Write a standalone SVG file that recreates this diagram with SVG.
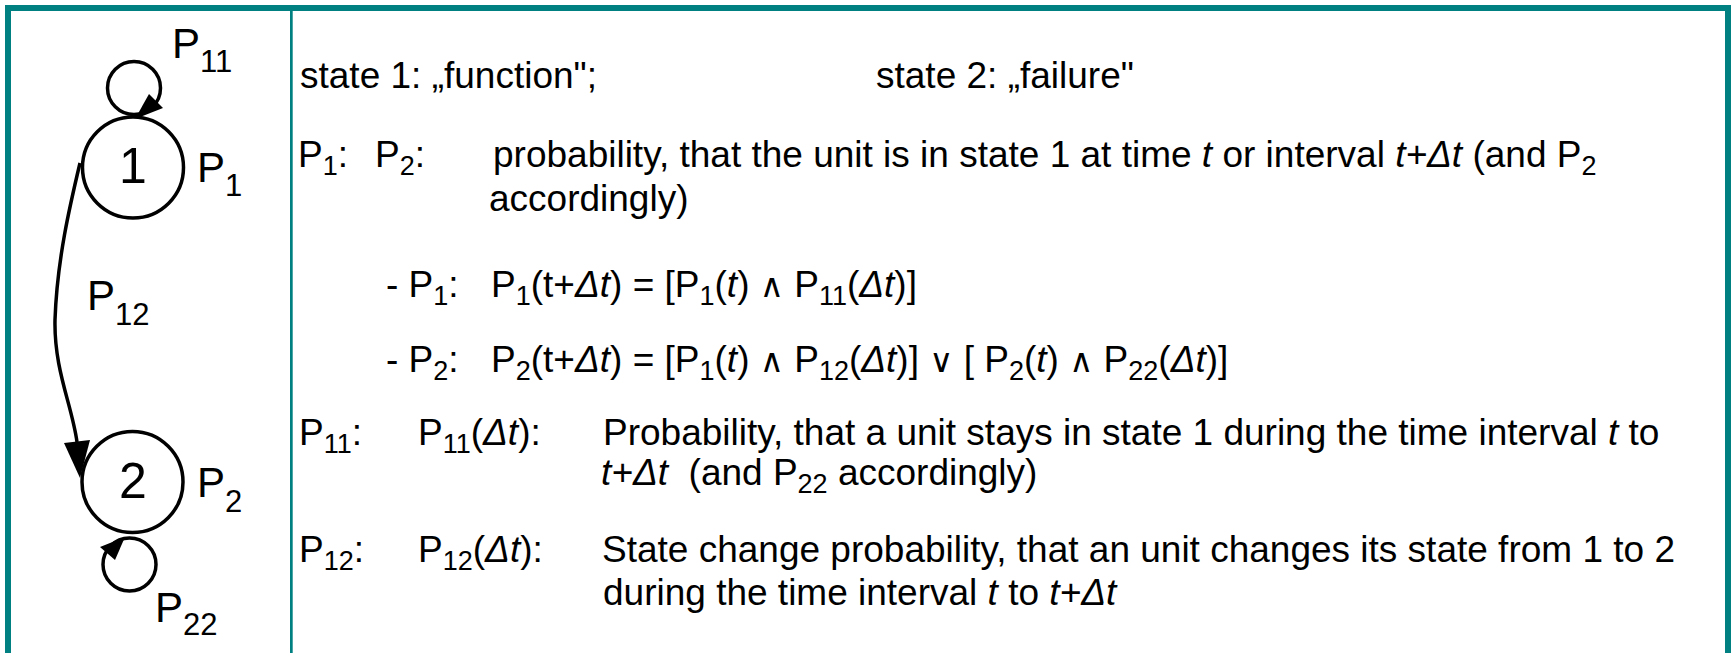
<svg xmlns="http://www.w3.org/2000/svg" width="1731" height="653" viewBox="0 0 1731 653">
<style>
.t{font-family:"Liberation Sans",Arial,"DejaVu Sans",sans-serif;font-size:37px;fill:#000}
.s{font-size:27px}
.i{font-style:italic}
.op{font-family:"DejaVu Sans",sans-serif;font-size:33px}
.lbl{font-family:"Liberation Sans",Arial,sans-serif;font-size:42px;fill:#000}
.ls{font-size:31px}
.num{font-family:"Liberation Sans",Arial,sans-serif;font-size:50px;text-anchor:middle;fill:#000}
.state{fill:#fff;stroke:#000;stroke-width:3.5}
.edge{fill:none;stroke:#000;stroke-width:3.5}
.head{fill:#000}
.frame{fill:none;stroke:#008080;stroke-width:6}
</style>
<rect width="1731" height="653" fill="#fff"/>
<g id="frame">
<rect class="frame" x="8" y="8" width="1720" height="700"/>
<rect x="290" y="11" width="2.7" height="642" fill="#008080"/>
</g>
<g id="connectors">
<circle class="edge" cx="134" cy="88" r="26.5"/>
<polygon class="head" points="135,119 149,94 163,108"/>
<path class="edge" d="M80,163 C70,205 57,260 55,320 C54,370 72,405 77,442"/>
<polygon class="head" points="80,478 64,443 90,440"/>
<circle class="edge" cx="129.5" cy="564.5" r="26.5"/>
<polygon class="head" points="125,537 100,547 115,560"/>
<text class="lbl" x="172" y="58">P<tspan class="ls" dy="14">11</tspan></text>
<text class="lbl" x="87" y="310">P<tspan class="ls" dy="15">12</tspan></text>
<text class="lbl" x="155" y="622">P<tspan class="ls" dy="13">22</tspan></text>
</g>
<g id="node-1">
<circle class="state" cx="133" cy="167.5" r="50.5"/>
<text class="num" x="133" y="183">1</text>
<text class="lbl" x="197" y="182">P<tspan class="ls" dy="14">1</tspan></text>
</g>
<g id="node-2">
<circle class="state" cx="132.5" cy="482" r="50.5"/>
<text class="num" x="133" y="498">2</text>
<text class="lbl" x="197" y="497">P<tspan class="ls" dy="15">2</tspan></text>
</g>
<g id="legend">
<text class="t" x="300" y="88">state 1: „function";</text>
<text class="t" x="876" y="88">state 2: „failure"</text>
<text class="t" x="298" y="167">P<tspan class="s" dy="8">1</tspan><tspan dy="-8">:</tspan></text>
<text class="t" x="375" y="167">P<tspan class="s" dy="8">2</tspan><tspan dy="-8">:</tspan></text>
<text class="t" x="493" y="167">probability, that the unit is in state 1 at time <tspan class="i">t</tspan> or interval <tspan class="i">t+Δt</tspan> (and P<tspan class="s" dy="8">2</tspan></text>
<text class="t" x="489" y="211">accordingly)</text>
<text class="t" x="386" y="297">- P<tspan class="s" dy="8">1</tspan><tspan dy="-8">:</tspan></text>
<text class="t" x="491" y="297">P<tspan class="s" dy="8">1</tspan><tspan dy="-8">(t+</tspan><tspan class="i">Δt</tspan>) = [P<tspan class="s" dy="8">1</tspan><tspan dy="-8">(</tspan><tspan class="i">t</tspan>) <tspan class="op">∧</tspan> P<tspan class="s" dy="8">11</tspan><tspan dy="-8">(</tspan><tspan class="i">Δt</tspan>)]</text>
<text class="t" x="386" y="372">- P<tspan class="s" dy="8">2</tspan><tspan dy="-8">:</tspan></text>
<text class="t" x="491" y="372">P<tspan class="s" dy="8">2</tspan><tspan dy="-8">(t+</tspan><tspan class="i">Δt</tspan>) = [P<tspan class="s" dy="8">1</tspan><tspan dy="-8">(</tspan><tspan class="i">t</tspan>) <tspan class="op">∧</tspan> P<tspan class="s" dy="8">12</tspan><tspan dy="-8">(</tspan><tspan class="i">Δt</tspan>)] <tspan class="op">∨</tspan> [ P<tspan class="s" dy="8">2</tspan><tspan dy="-8">(</tspan><tspan class="i">t</tspan>) <tspan class="op">∧</tspan> P<tspan class="s" dy="8">22</tspan><tspan dy="-8">(</tspan><tspan class="i">Δt</tspan>)]</text>
<text class="t" x="299" y="445">P<tspan class="s" dy="8">11</tspan><tspan dy="-8">:</tspan></text>
<text class="t" x="418" y="445">P<tspan class="s" dy="8">11</tspan><tspan dy="-8">(</tspan><tspan class="i">Δt</tspan>):</text>
<text class="t" x="603" y="445">Probability, that a unit stays in state 1 during the time interval <tspan class="i">t</tspan> to</text>
<text class="t" x="601" y="485"><tspan class="i">t+Δt</tspan>&#160; (and P<tspan class="s" dy="8">22</tspan><tspan dy="-8"> accordingly)</tspan></text>
<text class="t" x="299" y="562">P<tspan class="s" dy="8">12</tspan><tspan dy="-8">:</tspan></text>
<text class="t" x="418" y="562">P<tspan class="s" dy="8">12</tspan><tspan dy="-8">(</tspan><tspan class="i">Δt</tspan>):</text>
<text class="t" x="602" y="562">State change probability, that an unit changes its state from 1 to 2</text>
<text class="t" x="603" y="605">during the time interval <tspan class="i">t</tspan> to <tspan class="i">t+Δt</tspan></text>
</g>
</svg>
